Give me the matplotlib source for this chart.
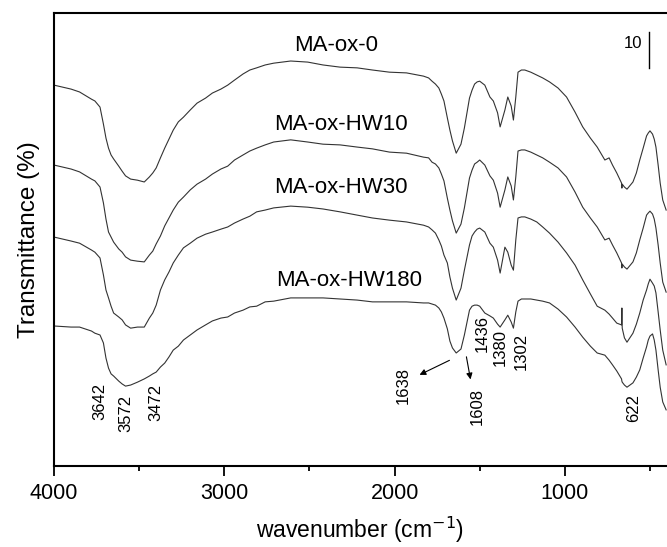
import matplotlib
matplotlib.use('Agg')
import matplotlib.pyplot as plt

# FTIR spectra (transmittance %, curves offset)
wavenumber = [4000, 3900, 3850, 3780, 3760, 3730, 3710, 3695, 3680, 3665,
              3650, 3620, 3600, 3580, 3550, 3510, 3470, 3440, 3420, 3400,
              3375, 3350, 3325, 3300, 3270, 3240, 3200, 3160, 3110, 3070,
              3020, 2980, 2940, 2890, 2850, 2810, 2760, 2710, 2610, 2510,
              2420, 2320, 2220, 2130, 2030, 1930, 1830, 1800, 1780, 1760,
              1740, 1725, 1710, 1690, 1675, 1660, 1638, 1610, 1590, 1560,
              1545, 1530, 1515, 1500, 1470, 1440, 1420, 1395, 1380, 1352,
              1335, 1315, 1302, 1288, 1275, 1255, 1235, 1200, 1165, 1130,
              1090, 1040, 990, 940, 895, 850, 810, 765, 740, 720,
              695, 667, 665, 663, 650, 635, 600, 580, 560, 540,
              520, 510, 500, 485, 475, 465, 452, 440, 425, 405]

t_ox0 = [105.8, 104.7, 103.9, 101.9, 101.4, 99.7, 95.0, 91.1, 88.3, 86.4,
         85.3, 83.3, 81.9, 80.6, 79.7, 79.4, 78.9, 80.3, 81.4, 82.8,
         85.6, 88.3, 90.8, 93.3, 95.6, 96.9, 98.9, 100.8, 102.2, 103.6,
         104.7, 105.8, 107.2, 108.9, 110.0, 110.6, 111.4, 111.9, 112.5, 112.2,
         111.4, 110.8, 110.6, 110.0, 109.4, 109.2, 108.3, 107.8, 106.9, 106.1,
         105.0, 103.3, 101.4, 96.7, 93.3, 90.3, 86.9, 89.4, 93.9, 102.2,
         104.4, 106.1, 106.7, 106.9, 105.8, 102.5, 101.4, 98.1, 94.2, 98.9,
         102.5, 100.0, 96.1, 102.5, 109.4, 110.0, 110.0, 109.4, 108.6, 107.8,
         106.7, 105.0, 102.5, 98.3, 94.2, 91.1, 88.6, 85.0, 85.6, 83.6,
         81.4, 78.6, 77.2, 78.3, 77.5, 76.9, 78.9, 81.4, 85.0, 88.3,
         91.7, 92.5, 93.1, 92.2, 90.8, 88.6, 83.6, 78.6, 73.9, 71.1]

t_hw10 = [83.6, 82.5, 81.7, 79.7, 79.2, 77.5, 73.1, 68.6, 65.0, 63.6,
          62.2, 60.3, 59.4, 58.1, 57.2, 56.9, 56.7, 58.6, 59.7, 61.7,
          63.9, 66.7, 68.9, 71.1, 73.3, 74.7, 76.7, 78.3, 79.7, 81.1,
          82.5, 83.3, 85.0, 86.4, 87.5, 88.3, 89.2, 90.0, 90.6, 90.0,
          89.4, 89.2, 88.6, 88.1, 87.2, 86.9, 85.8, 85.6, 84.4, 83.9,
          82.8, 81.1, 79.2, 74.4, 71.1, 68.1, 64.7, 67.2, 71.7, 80.0,
          82.2, 83.9, 84.4, 85.0, 83.6, 80.6, 79.4, 75.8, 71.9, 76.7,
          80.3, 77.8, 73.9, 80.3, 87.5, 87.8, 87.8, 87.2, 86.4, 85.6,
          84.4, 82.8, 80.3, 76.1, 71.9, 68.9, 66.4, 62.8, 63.3, 61.4,
          59.2, 56.4, 55.0, 56.1, 55.3, 54.7, 56.7, 59.2, 62.8, 66.1,
          69.7, 70.3, 70.8, 70.0, 68.6, 66.1, 61.4, 56.4, 51.1, 48.3]

t_hw30 = [63.6, 62.5, 61.9, 60.0, 59.4, 57.8, 53.1, 48.9, 46.7, 44.4,
          42.5, 41.4, 40.6, 39.2, 38.3, 38.6, 38.6, 41.1, 42.5, 44.7,
          48.9, 51.7, 53.9, 56.4, 58.6, 60.6, 61.9, 63.3, 64.4, 65.0,
          65.8, 66.4, 67.5, 68.6, 69.4, 70.6, 71.1, 71.7, 72.2, 71.9,
          71.4, 70.6, 69.7, 68.9, 68.3, 67.8, 66.9, 66.4, 65.6, 64.7,
          62.8, 61.1, 58.6, 56.4, 52.5, 49.4, 46.1, 49.4, 54.4, 61.4,
          63.9, 65.0, 65.8, 66.1, 65.0, 61.9, 60.8, 57.2, 53.6, 60.8,
          59.4, 55.8, 54.4, 62.8, 68.9, 69.2, 69.2, 68.6, 67.8, 66.4,
          64.7, 62.2, 59.2, 55.8, 51.7, 47.8, 44.4, 43.3, 42.2, 41.1,
          39.7, 39.2, 43.9, 38.3, 35.6, 34.4, 36.9, 39.4, 42.5, 46.1,
          48.9, 50.6, 51.9, 50.8, 50.0, 48.1, 42.8, 37.8, 32.2, 28.1]

t_hw180 = [38.9, 38.6, 38.6, 37.5, 36.9, 36.4, 34.2, 30.0, 27.2, 25.6,
           25.0, 23.6, 22.8, 22.2, 22.5, 23.3, 24.2, 25.0, 25.6, 26.1,
           27.5, 28.6, 30.3, 32.2, 33.3, 35.0, 36.4, 37.8, 39.2, 40.3,
           41.1, 41.4, 42.5, 43.3, 44.2, 44.4, 45.6, 45.8, 46.7, 46.7,
           46.7, 46.4, 46.1, 45.6, 45.6, 45.6, 45.3, 45.3, 45.0, 44.7,
           43.9, 42.8, 41.1, 38.1, 34.7, 32.8, 31.4, 32.5, 36.4, 43.3,
           44.4, 44.7, 44.7, 44.4, 42.5, 41.7, 41.1, 39.4, 38.6, 40.6,
           41.9, 40.0, 38.3, 42.8, 45.8, 46.4, 46.4, 46.4, 46.1, 45.8,
           45.3, 43.6, 41.4, 38.6, 35.8, 33.3, 31.4, 30.8, 29.4, 28.1,
           26.4, 24.2, 23.6, 23.3, 22.5, 21.9, 23.1, 24.7, 26.7, 30.0,
           33.1, 35.0, 36.1, 36.7, 35.0, 32.2, 26.7, 21.9, 17.8, 15.6]

sample_names = ['MA-ox-0', 'MA-ox-HW10', 'MA-ox-HW30', 'MA-ox-HW180']
peak_labels = ['3642', '3572', '3472', '1638', '1608', '1436', '1380', '1302', '622']

plt.rcParams['font.family'] = ['Liberation Sans', 'DejaVu Sans']

fig = plt.figure(figsize=(6.67, 5.47), dpi=100)
ax = fig.add_axes([0.081, 0.148, 0.919, 0.828])

for t in [t_ox0, t_hw10, t_hw30, t_hw180]:
    ax.plot(wavenumber, t, color='#333333', lw=0.8, solid_joinstyle='round')

ax.set_xlim(4000, 400)
ax.set_ylim(0, 125.8)

# sample names above each curve
name_pos = [(2344, 116.7), (2315, 95.0), (2315, 77.4), (2268, 51.4)]
for name, (x, y) in zip(sample_names, name_pos):
    ax.text(x, y, name, fontsize=16, ha='center', va='center')

# band positions, rotated
label_pos = [(3730, 17.9), (3577, 14.7), (3401, 17.8), (1951, 22.5), (1516, 16.4),
             (1487, 36.9), (1381, 32.8), (1258, 31.7), (594, 16.1)]
for lab, (x, y) in zip(peak_labels, label_pos):
    ax.text(x, y, lab, fontsize=12, rotation=90, ha='center', va='center')

arrow = dict(arrowstyle='-|>', color='black', lw=0.8, mutation_scale=9)
ax.annotate('', xy=(1868, 25.0), xytext=(1663, 29.7), arrowprops=arrow)
ax.annotate('', xy=(1551, 23.3), xytext=(1581, 31.1), arrowprops=arrow)

# scale bar of 10 %
ax.plot([506, 506], [110.6, 120.6], color='black', lw=1.0)
ax.text(545, 117.5, '10', fontsize=12, ha='right', va='center')

ax.set_xticks([4000, 3000, 2000, 1000])
ax.set_xticks([3500, 2500, 1500, 500], minor=True)
ax.set_yticks([])
ax.tick_params(axis='x', which='major', direction='out', length=7, width=1.3,
               labelsize=15.5, pad=5)
ax.tick_params(axis='x', which='minor', direction='out', length=3.5, width=1.3)
for side in ['left', 'bottom', 'top']:
    ax.spines[side].set_linewidth(1.5)
ax.spines['right'].set_visible(False)

ax.set_xlabel('wavenumber (cm$^{-1}$)', fontsize=16.5, labelpad=8)
ax.set_ylabel('Transmittance (%)', fontsize=17.5, labelpad=10)

plt.savefig('out.png', dpi=100)
